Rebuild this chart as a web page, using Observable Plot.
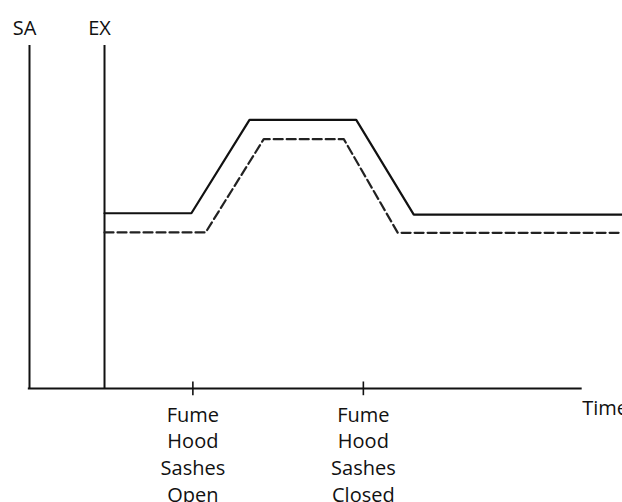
<!DOCTYPE html>
<html>
<head>
<meta charset="utf-8">
<script src="https://cdn.jsdelivr.net/npm/d3@7"></script>
<script src="https://cdn.jsdelivr.net/npm/@observablehq/plot@0.6"></script>
<style>
  html, body { margin: 0; padding: 0; background: #fff; }
  #chart svg { display: block; }
</style>
</head>
<body>
<div id="chart"></div>
<script>
// Conceptual time axis (0 = SA axis, 100 = right edge)
const axisNames = ["SA", "EX"];
const axisTimes = [0, 12.65];
const axisEnd = 93.2;

const eventTimes = [27.55, 56.3];
const eventLabels = ["Fume\nHood\nSashes\nOpen", "Fume\nHood\nSashes\nClosed"];
const timeLabel = "Time";

// Supply air (solid) profile
const saTimes  = [12.65, 27.3, 37.1, 55.1, 64.8, 100];
const saValues = [51.1, 51.1, 78.3, 78.3, 50.7, 50.7];

// Exhaust (dashed) profile
const exTimes  = [12.65, 29.7, 39.5, 53.0, 62.1, 100];
const exValues = [45.5, 45.5, 72.7, 72.7, 45.4, 45.4];

const sa = saTimes.map((t, i) => ({t, v: saValues[i]}));
const ex = exTimes.map((t, i) => ({t, v: exValues[i]}));
const axesData = axisNames.map((name, i) => ({name, t: axisTimes[i]}));
const events = eventTimes.map((t, i) => ({t, label: eventLabels[i]}));

const ink = "#111";
const font = "Open Sans";

const chart = Plot.plot({
  width: 622,
  height: 502,
  marginLeft: 29,
  marginRight: 0,
  marginTop: 45,
  marginBottom: 114,
  style: {fontFamily: font, background: "#fff"},
  x: {domain: [0, 100], axis: null},
  y: {domain: [0, 100], axis: null},
  marks: [
    // vertical SA / EX axes
    Plot.ruleX(axesData, {x: "t", y1: 0, y2: 100, stroke: ink, strokeWidth: 2}),
    // horizontal time axis
    Plot.ruleY([0], {x1: -0.2, x2: axisEnd, stroke: ink, strokeWidth: 2}),
    // event ticks
    Plot.ruleX(events, {x: "t", y1: -2.1, y2: 1.9, stroke: ink, strokeWidth: 1.6}),
    // axis names
    Plot.text(axesData, {x: "t", y: 100, text: "name", dx: -5, dy: -11, lineAnchor: "bottom",
      fontSize: 20, fill: ink, fontFamily: font}),
    // event labels
    Plot.text(events, {x: "t", y: 0, text: "label", dy: 14, lineAnchor: "top", lineHeight: 1.34,
      fontSize: 20, fill: ink, fontFamily: font}),
    Plot.text([timeLabel], {x: axisEnd, y: 0, text: d => d, dy: 12, lineAnchor: "top", textAnchor: "start",
      fontSize: 20, fill: ink, fontFamily: font}),
    // profiles
    Plot.line(sa, {x: "t", y: "v", stroke: ink, strokeWidth: 2.2, strokeLinejoin: "miter"}),
    Plot.line(ex, {x: "t", y: "v", stroke: "#222", strokeWidth: 2.2, strokeDasharray: "9,4", strokeLinejoin: "miter"})
  ]
});

document.getElementById("chart").appendChild(chart);
</script>
</body>
</html>
